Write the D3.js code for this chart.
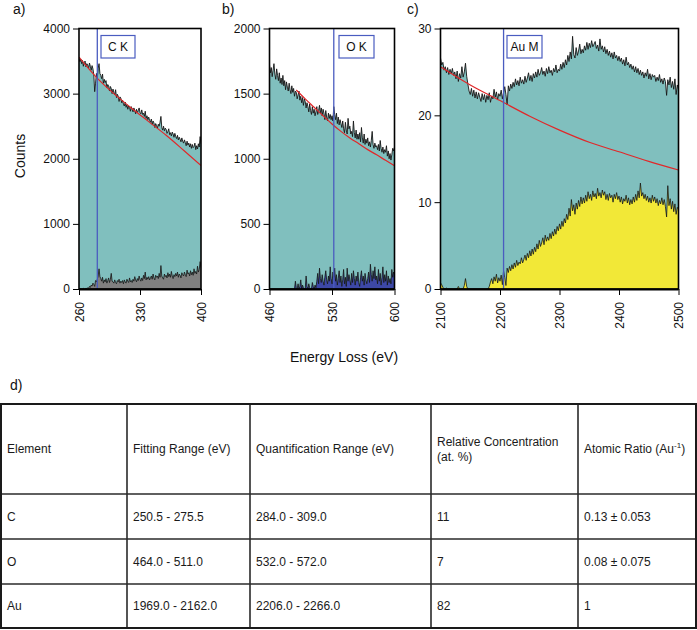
<!DOCTYPE html>
<html><head><meta charset="utf-8">
<script src="https://cdn.jsdelivr.net/npm/d3@7"></script>
<style>body{margin:0;background:#fff} svg{display:block;font-family:"Liberation Sans",Arial,Helvetica,sans-serif}</style>
</head><body><svg id="c" width="697" height="630"></svg>
<script>
// ---------- Panel a: C K edge (260-400 eV, 1 eV steps) ----------
const energyA = {start: 260, step: 1};
const totalA = [
3550,3490,3530,3460,3510,3420,3480,3500,3410,3460,
3440,3390,3470,3420,3360,3430,3380,3290,3030,3160,
3310,3240,3390,3460,3310,3280,3230,3300,3160,3220,
3170,3200,3090,3140,3120,3040,3110,3080,3000,3070,
3020,2980,3060,2940,2990,2960,2880,2950,2930,2860,
2900,2840,2810,2870,2790,2830,2760,2810,2790,2730,
2800,2760,2720,2780,2740,2690,2760,2710,2740,2780,
2710,2690,2750,2680,2700,2650,2730,2620,2660,2600,
2640,2590,2560,2610,2530,2580,2550,2480,2540,2510,
2470,2530,2500,2560,2650,2480,2440,2500,2430,2470,
2450,2390,2420,2460,2370,2400,2350,2410,2380,2330,
2390,2340,2310,2360,2290,2330,2300,2260,2320,2270,
2240,2290,2250,2200,2270,2210,2240,2180,2230,2160,
2220,2170,2190,2240,2140,2200,2150,2230,2180,2340,
2230];
const signalA = [
0,0,5,0,0,10,0,0,15,5,
20,10,40,25,60,45,90,70,40,130,
110,150,200,310,190,160,120,180,90,140,
110,160,90,130,170,100,150,240,120,110,
90,140,100,80,130,110,150,90,120,100,
130,80,140,110,90,150,120,100,170,110,
130,100,150,120,190,140,110,160,130,200,
150,120,170,130,210,160,260,140,180,150,
190,140,170,200,150,230,170,140,210,180,
200,160,240,180,360,200,170,150,230,190,
210,170,250,190,230,180,270,200,160,220,
190,240,200,260,180,230,210,170,250,220,
200,260,220,190,290,230,250,200,280,220,
260,210,310,240,270,230,350,260,300,420,
330];
const backgroundA = [[260,3560],[280,3250],[300,3000],[320,2780],[340,2570],[360,2360],[380,2130],[400,1895]];

// ---------- Panel b: O K edge (460-600 eV, 1 eV steps) ----------
const energyB = {start: 460, step: 1};
const totalB = [
1720,1660,1700,1630,1680,1730,1650,1610,1690,1640,
1600,1660,1580,1620,1570,1640,1560,1600,1530,1590,
1550,1520,1580,1530,1500,1560,1510,1540,1480,1520,
1510,1460,1490,1520,1450,1480,1430,1470,1410,1460,
1440,1390,1430,1400,1360,1420,1370,1340,1400,1350,
1380,1330,1360,1400,1340,1370,1410,1350,1390,1330,
1380,1350,1300,1370,1320,1290,1350,1310,1340,1300,
1330,1290,1400,1340,1300,1350,1270,1320,1260,1300,
1270,1240,1290,1230,1200,1280,1220,1190,1310,1230,
1250,1190,1210,1170,1290,1200,1160,1220,1150,1190,
1150,1200,1130,1240,1160,1120,1190,1110,1150,1120,
1160,1100,1130,1090,1140,1210,1110,1080,1120,1090,
1100,1070,1110,1060,1140,1080,1050,1090,1040,1070,
1050,1100,1020,1060,1000,1040,990,1030,1080,1060,
1090];
const signalB = [
0,0,0,0,0,0,0,0,0,0,
0,0,0,0,0,0,0,0,0,0,
0,0,0,0,0,0,0,0,0,60,
10,0,40,0,20,70,0,30,10,0,
0,100,20,0,40,10,0,0,50,20,
0,30,10,60,120,40,160,80,50,110,
60,30,90,140,70,40,100,60,170,80,
40,130,90,160,60,110,30,80,140,50,
100,20,70,150,40,90,20,160,60,110,
70,30,120,50,140,80,30,100,60,130,
50,20,90,140,60,100,30,120,70,40,
80,130,50,190,110,60,140,80,170,70,
100,40,150,60,120,30,90,170,50,110,
60,140,30,100,50,80,40,150,90,130,
110];
const backgroundB = [[490,1528],[500,1460],[510,1395],[520,1330],[530,1267],[540,1210],[550,1160],[560,1115],[570,1070],[580,1030],[590,988],[600,947]];

// ---------- Panel c: Au M edge (2100-2500 eV, 2 eV steps) ----------
const energyC = {start: 2100, step: 2};
const totalC = [
26.6,25.8,26.1,25.2,25.6,24.9,25.5,24.7,25.3,24.8,
25.4,24.6,25.0,24.2,25.1,23.9,24.8,24.3,25.6,24.4,
25.0,26.0,24.5,23.6,22.8,22.4,23.1,22.2,22.9,22.0,
22.7,21.9,22.6,22.1,21.6,22.5,21.8,22.4,21.5,22.3,
21.8,22.6,21.5,22.2,21.9,23.0,22.1,22.7,21.8,22.5,
22.2,22.9,21.9,22.6,23.3,22.4,21.2,23.4,22.8,23.6,
23.1,23.8,23.3,24.2,23.5,24.0,23.4,24.4,23.7,24.1,
23.6,24.5,23.8,24.3,24.9,24.0,24.6,23.9,24.8,24.3,
25.0,24.4,25.3,24.6,24.9,25.5,24.7,25.1,24.5,25.4,
24.8,25.6,24.9,25.2,24.6,25.4,25.0,25.8,24.9,25.3,
25.1,25.9,25.3,26.1,25.5,26.4,25.8,26.9,26.2,27.3,
26.5,29.1,27.0,26.6,27.8,26.9,27.4,28.2,27.1,27.6,
27.2,28.0,27.5,28.4,27.6,28.3,27.8,28.6,27.9,28.2,
28.5,27.7,28.1,27.4,28.8,27.6,28.0,27.3,27.9,27.1,
27.6,26.9,27.4,26.7,27.2,26.5,27.3,26.6,26.9,26.3,
26.8,26.2,26.6,25.9,26.4,25.7,26.7,25.8,26.1,25.5,
25.9,25.3,25.7,25.0,25.6,24.9,25.4,24.7,25.2,24.6,
25.0,24.3,24.9,24.5,25.3,24.2,24.8,24.1,24.7,24.4,
24.6,23.9,24.4,24.0,24.7,23.8,24.2,23.6,24.3,23.9,
22.3,24.1,23.5,24.4,23.2,23.9,23.0,24.2,22.4,23.5,
23.0];
const signalC = [
0.7,0.5,0.2,0,0,0.1,0,0,0,0,
0,0,0,0,0,0.3,0,0,0,0,
0.4,1.2,0.3,0,0,0,0,0,0,0,
0,0,0,0,0,0,0,0,0,0,
0,0.3,0.8,1.2,0.6,1.4,0.9,1.7,0.7,1.3,
0.9,1.6,0.5,2.1,1.3,0.4,2.4,1.9,2.6,2.1,
2.8,2.3,3.0,2.5,3.3,2.7,3.1,2.9,3.6,3.0,
3.4,3.9,3.3,4.1,3.6,4.4,3.8,4.6,4.0,4.8,
4.3,5.2,4.6,5.6,4.9,5.3,5.9,5.1,6.2,5.5,
6.0,5.6,6.4,5.8,6.6,6.1,6.9,6.3,7.2,6.7,
7.5,6.9,7.8,7.2,8.1,7.6,8.6,8.0,9.3,8.4,
10.3,9.0,9.7,8.6,9.9,9.2,10.2,9.5,10.6,9.8,
10.5,9.9,10.8,10.1,11.2,10.4,10.9,10.2,11.3,10.6,
11.0,10.4,11.6,10.7,11.1,10.5,11.4,10.8,11.2,10.3,
10.9,10.2,11.0,10.5,10.8,10.0,10.9,10.4,11.1,10.3,
10.7,10.0,10.6,9.8,10.4,10.1,10.8,9.9,10.5,9.7,
10.3,9.8,10.6,10.0,10.9,10.2,11.3,10.5,12.2,10.7,
11.1,10.4,10.9,10.2,10.7,10.0,10.5,9.9,10.8,10.1,
10.6,9.9,10.4,9.6,10.2,9.8,10.5,9.7,10.3,9.5,
8.3,11.9,9.6,10.4,9.2,10.1,8.9,9.8,8.6,9.4,
9.2];
const backgroundC = [[2100,25.6],[2150,23.5],[2200,21.7],[2250,19.9],[2300,18.3],[2350,16.9],[2400,15.8],[2450,14.7],[2500,13.7]];

// ---------- axes / labels ----------
const xTicksA = [260,330,400], yTicksA = [0,1000,2000,3000,4000];
const xTicksB = [460,530,600], yTicksB = [0,500,1000,1500,2000];
const xTicksC = [2100,2200,2300,2400,2500], yTicksC = [0,10,20,30];
const edgeLabels = ["C K","O K","Au M"];
const edgeEnergies = [281, 532, 2206];
const panelLetters = ["a)","b)","c)"];

// ---------- table ----------
const tableHeader = ["Element","Fitting Range (eV)","Quantification Range (eV)",["Relative Concentration","(at. %)"],"Atomic Ratio (Au-1)"];
const tableElements = ["C","O","Au"];
const tableFitting = ["250.5 - 275.5","464.0 - 511.0","1969.0 - 2162.0"];
const tableQuant = ["284.0 - 309.0","532.0 - 572.0","2206.0 - 2266.0"];
const tableConc = ["11","7","82"];
const tableRatio = ["0.13 \u00b1 0.053","0.08 \u00b1 0.075","1"];

const svg = d3.select("#c");
const TEAL = "#80bfbe", RED = "#e0282a", EDGE = "#4a5cc0";
const Y0 = 289, Y1 = 28.5;

const panels = [
  {x0:79, x1:201, xDom:[260,400], yDom:[0,4000], en:energyA, total:totalA, sig:signalA, bg:backgroundA, sigFill:"#808080", xt:xTicksA, yt:yTicksA, box:[101,135], lx:13, letter:0},
  {x0:269.5, x1:394.5, xDom:[460,600], yDom:[0,2000], en:energyB, total:totalB, sig:signalB, bg:backgroundB, sigFill:"#3d48a6", xt:xTicksB, yt:yTicksB, box:[339,374], lx:222, letter:1},
  {x0:440.5, x1:678.5, xDom:[2100,2500], yDom:[0,30], en:energyC, total:totalC, sig:signalC, bg:backgroundC, sigFill:"#f2e837", xt:xTicksC, yt:yTicksC, box:[507,542], lx:407, letter:2}
];

panels.forEach((p, k) => {
  const x = d3.scaleLinear().domain(p.xDom).range([p.x0, p.x1]);
  const y = d3.scaleLinear().domain(p.yDom).range([Y0, Y1]);
  const g = svg.append("g");
  const cid = "clip" + k;
  svg.append("clipPath").attr("id", cid).append("rect")
    .attr("x", p.x0).attr("y", Y1).attr("width", p.x1 - p.x0).attr("height", Y0 - Y1);
  const toPts = arr => arr.map((v, i) => [p.en.start + i * p.en.step, v]);
  const tot = toPts(p.total), sig = toPts(p.sig);
  const area = d3.area().x(d => x(d[0])).y0(y(0)).y1(d => y(d[1]));
  const line = d3.line().x(d => x(d[0])).y(d => y(d[1]));
  const pg = g.append("g").attr("clip-path", `url(#${cid})`);
  pg.append("path").datum(tot).attr("d", area).attr("fill", TEAL);
  pg.append("path").datum(tot).attr("d", line).attr("fill", "none").attr("stroke", "#151515").attr("stroke-width", 0.9);
  pg.append("path").datum(sig).attr("d", area).attr("fill", p.sigFill);
  pg.append("path").datum(sig).attr("d", line).attr("fill", "none").attr("stroke", "#151515").attr("stroke-width", 0.8);
  pg.append("path").datum(p.bg).attr("d", d3.line().x(d => x(d[0])).y(d => y(d[1])).curve(d3.curveMonotoneX))
    .attr("fill", "none").attr("stroke", RED).attr("stroke-width", 1.2);
  // edge marker
  pg.append("line").attr("x1", x(edgeEnergies[k])).attr("x2", x(edgeEnergies[k]))
    .attr("y1", Y1).attr("y2", Y0).attr("stroke", EDGE).attr("stroke-width", 1.3);
  g.append("rect").attr("x", p.box[0]).attr("y", 35.5).attr("width", p.box[1] - p.box[0]).attr("height", 22.5)
    .attr("fill", "#fff").attr("stroke", EDGE).attr("stroke-width", 1.2);
  g.append("text").attr("x", (p.box[0] + p.box[1]) / 2).attr("y", 47).attr("dy", "0.35em")
    .attr("text-anchor", "middle").attr("font-size", 12).attr("fill", "#111").text(edgeLabels[k]);
  // frame
  g.append("rect").attr("x", p.x0).attr("y", Y1).attr("width", p.x1 - p.x0).attr("height", Y0 - Y1)
    .attr("fill", "none").attr("stroke", "#000").attr("stroke-width", 1.6);
  g.append("line").attr("x1", p.x0).attr("x2", p.x1).attr("y1", Y0 + 0.5).attr("y2", Y0 + 0.5)
    .attr("stroke", "#000").attr("stroke-width", 2.2);
  // axes
  const ya = g.append("g").attr("transform", `translate(${p.x0},0)`)
    .call(d3.axisLeft(y).tickValues(p.yt).tickSize(6).tickPadding(3).tickFormat(d3.format("d")));
  ya.select(".domain").remove();
  ya.selectAll("text").attr("font-size", 12).attr("font-family", "Liberation Sans, Arial, sans-serif").attr("fill", "#111");
  const xa = g.append("g").attr("transform", `translate(0,${Y0})`)
    .call(d3.axisBottom(x).tickValues(p.xt).tickSize(6).tickFormat(d3.format("d")));
  xa.select(".domain").remove();
  xa.selectAll("text").attr("font-size", 12).attr("font-family", "Liberation Sans, Arial, sans-serif").attr("fill", "#111")
    .attr("transform", "rotate(-90)").attr("text-anchor", "end").attr("x", -13).attr("y", 0).attr("dy", "0.36em");
  svg.append("text").attr("x", p.lx).attr("y", 14).attr("font-size", 14).attr("fill", "#111").text(panelLetters[k]);
});

svg.append("text").attr("transform", "translate(20,156) rotate(-90)").attr("text-anchor", "middle")
  .attr("dy", "0.35em").attr("font-size", 14).attr("fill", "#111").text("Counts");
svg.append("text").attr("x", 344).attr("y", 357).attr("dy", "0.35em").attr("text-anchor", "middle")
  .attr("font-size", 14).attr("fill", "#111").text("Energy Loss (eV)");
svg.append("text").attr("x", 10).attr("y", 390).attr("font-size", 14).attr("fill", "#111").text("d)");

// ---------- table drawing ----------
const colX = [1, 127, 250, 431, 578, 696];
const rowY = [404, 494, 539, 584, 628];
const tg = svg.append("g");
tg.selectAll("line.h").data(rowY.slice(1, -1)).join("line")
  .attr("x1", colX[0]).attr("x2", colX[5]).attr("y1", d => d).attr("y2", d => d)
  .attr("stroke", "#2a2a2a").attr("stroke-width", 1.6);
tg.selectAll("line.v").data(colX.slice(1, -1)).join("line")
  .attr("x1", d => d).attr("x2", d => d).attr("y1", rowY[0]).attr("y2", rowY[4])
  .attr("stroke", "#2a2a2a").attr("stroke-width", 1.6);
tg.append("rect").attr("x", colX[0]).attr("y", rowY[0]).attr("width", colX[5] - colX[0]).attr("height", rowY[4] - rowY[0])
  .attr("fill", "none").attr("stroke", "#1a1a1a").attr("stroke-width", 2);

const cellText = (col, row) => {
  const cy = (rowY[row] + rowY[row + 1]) / 2;
  return tg.append("text").attr("x", colX[col] + 6).attr("y", cy).attr("dy", "0.35em")
    .attr("font-size", 12).attr("fill", "#1a1a1a");
};
tableHeader.forEach((h, c) => {
  if (Array.isArray(h)) {
    const cy = (rowY[0] + rowY[1]) / 2;
    h.forEach((ln, j) => tg.append("text").attr("x", colX[c] + 6).attr("y", cy - 7 + j * 15).attr("dy", "0.35em")
      .attr("font-size", 12).attr("fill", "#1a1a1a").text(ln));
  } else if (h.endsWith("(Au-1)")) {
    const t = cellText(c, 0);
    t.append("tspan").text("Atomic Ratio (Au");
    t.append("tspan").attr("dy", -5).attr("font-size", 8).text("-1");
    t.append("tspan").attr("dy", 5).text(")");
  } else {
    cellText(c, 0).text(h);
  }
});
[tableElements, tableFitting, tableQuant, tableConc, tableRatio].forEach((col, c) => {
  col.forEach((v, r) => cellText(c, r + 1).text(v));
});
</script></body></html>
